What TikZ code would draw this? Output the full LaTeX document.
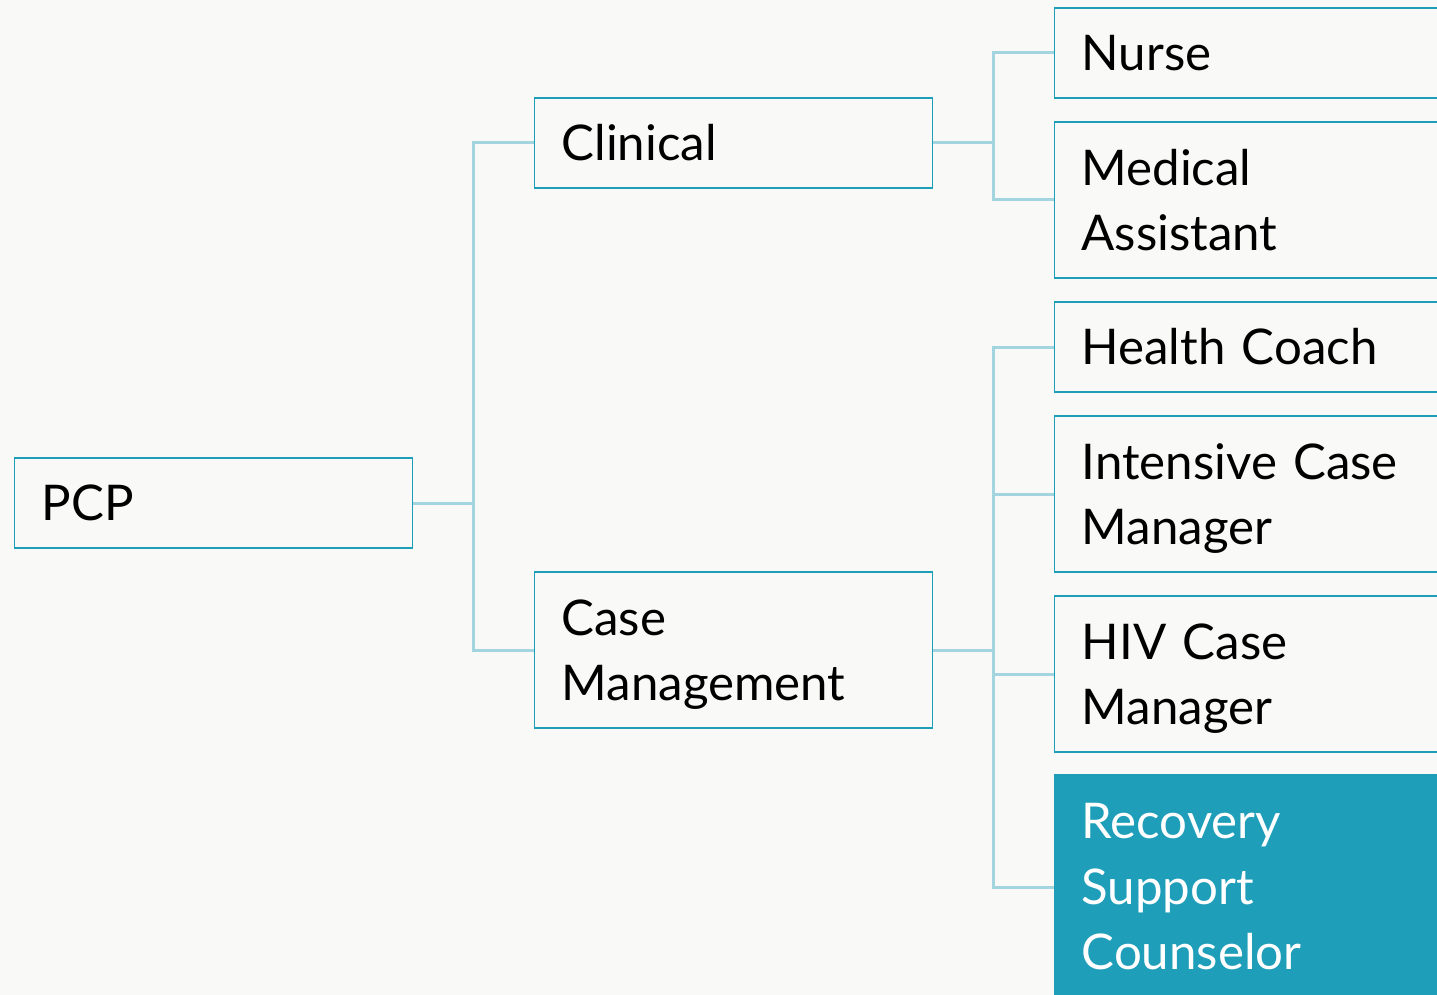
\documentclass[tikz,border=0pt]{standalone}
\usepackage{fontspec}
\setmainfont{Lato}[WordSpace=0.6]
\usepackage{tikz}
\pgfdeclarelayer{background}
\pgfsetlayers{background,main}
\definecolor{bgc}{HTML}{F9F9F7}
\definecolor{tealc}{HTML}{1F9EBA}
\definecolor{linkc}{HTML}{A3D5E0}
\tikzset{
  box/.style={draw=tealc, line width=0.65pt, anchor=west, align=left, inner xsep=13.5pt, inner ysep=0pt,
    minimum width=199pt, text width=172pt, font=\fontsize{24.6pt}{32.75pt}\selectfont},
  rbox/.style={box, minimum width=215pt, text width=188pt},
  link/.style={draw=linkc, line width=1.5pt}
}

\begin{document}
\begin{tikzpicture}[x=0.5pt,y=-0.5pt]
\useasboundingbox (0,0) rectangle (1437,995);
% boxes
\node[box, minimum height=45pt] (pcp) at (14,503) {PCP};
\node[box, minimum height=45pt] (clinical) at (534,143) {Clinical};
\node[box, minimum height=78pt] (casemgmt) at (534,650) {Case\\\smash{Management}};
\node[rbox, minimum height=45pt] (nurse) at (1054,53) {Nurse};
\node[rbox, minimum height=78pt] (medasst) at (1054,200) {Medical\\Assistant};
\node[rbox, minimum height=45pt] (coach) at (1054,347) {Health Coach};
\node[rbox, minimum height=78pt] (icm) at (1054,494) {Intensive Case\\\smash{Manager}};
\node[rbox, minimum height=78pt] (hivcm) at (1054,674) {HIV Case\\\smash{Manager}};
\node[rbox, minimum height=112pt, fill=tealc, text=white] (recovery) at (1054,887) {Recovery\\Support\\Counselor};
\begin{pgfonlayer}{background}
\fill[bgc] (0,0) rectangle (1437,995);
% links
\draw[link] (pcp.east) -- ++(60,0) |- (clinical.west);
\draw[link] (pcp.east) -- ++(60,0) |- (casemgmt.west);
\draw[link] (clinical.east) -- ++(60,0) |- (nurse.west);
\draw[link] (clinical.east) -- ++(60,0) |- (medasst.west);
\foreach \n in {coach,icm,hivcm,recovery}
  \draw[link] (casemgmt.east) -- ++(60,0) |- (\n.west);
\end{pgfonlayer}
\end{tikzpicture}
\end{document}
